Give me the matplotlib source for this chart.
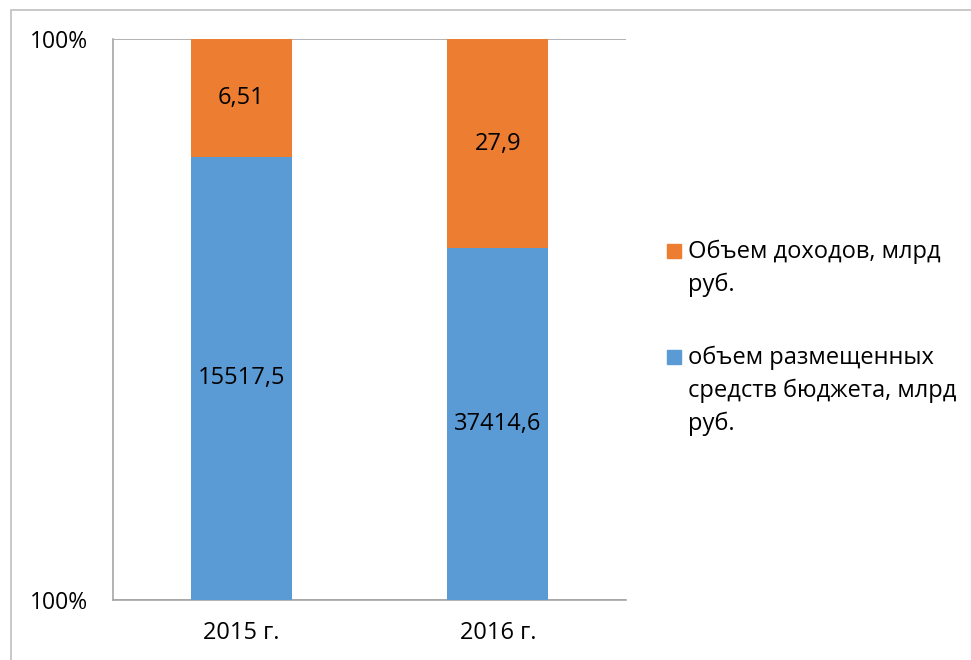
import matplotlib
matplotlib.use("Agg")
import matplotlib.pyplot as plt
from matplotlib.patches import Rectangle
import numpy as np

plt.rcParams['font.family'] = ['Open Sans', 'DejaVu Sans']

categories = ["2015 г.", "2016 г."]
series_names = ["объем размещенных\nсредств бюджета, млрд\nруб.", "Объем доходов, млрд\nруб."]
# shares as drawn in the picture (100% stacked)
share_placed = [0.79, 0.627]
share_income = [0.21, 0.373]
# data labels shown on bars
label_placed = ["15517,5", "37414,6"]
label_income = ["6,51", "27,9"]
ytick_labels = ["100%", "100%"]

c_blue = "#5B9BD5"
c_orange = "#ED7D31"
FS = 17

fig = plt.figure(figsize=(9.71, 6.6), dpi=100)
ax = fig.add_axes([113/971, 1-600/660, 513/971, 561/660])

x = np.arange(len(categories))
b1 = ax.bar(x, share_placed, width=0.395, color=c_blue, zorder=3)
b2 = ax.bar(x, share_income, width=0.395, bottom=share_placed, color=c_orange, zorder=3)
ax.bar_label(b1, labels=label_placed, label_type='center', fontsize=FS)
ax.bar_label(b2, labels=label_income, label_type='center', fontsize=FS)

ax.set_xlim(-0.5, 1.5)
ax.set_ylim(0, 1)
ax.set_yticks([0, 1])
ax.set_yticklabels(ytick_labels, fontsize=16.5)
ax.set_xticks(x)
ax.set_xticklabels(categories, fontsize=FS)
ax.tick_params(axis='y', length=0, pad=18)
ax.tick_params(axis='x', length=0, pad=15)
ax.yaxis.grid(True, color='#A6A6A6', linewidth=1.2, zorder=0)
for s in ['top', 'right']:
    ax.spines[s].set_visible(False)
for s in ['left', 'bottom']:
    ax.spines[s].set_color('#A6A6A6')
    ax.spines[s].set_linewidth(1.2)

# legend drawn manually (marker aligned with first text line)
legend_items = [(series_names[1], c_orange, 251), (series_names[0], c_blue, 357)]
for text, col, yc in legend_items:
    fig.patches.append(Rectangle((667/971, 1-(yc+7)/660), 14/971, 14/660,
                                 transform=fig.transFigure, color=col, figure=fig))
    fig.text(688/971, 1-(yc-11)/660, text, fontsize=FS, va='top', ha='left',
             linespacing=1.45)

# outer chart border
fig.patches.append(Rectangle((11/971, -0.1), 1.2, 1-10/660+0.1, transform=fig.transFigure,
                             fill=False, edgecolor='#BFBFBF', linewidth=1.2, figure=fig))

fig.savefig("out.png", dpi=100)
